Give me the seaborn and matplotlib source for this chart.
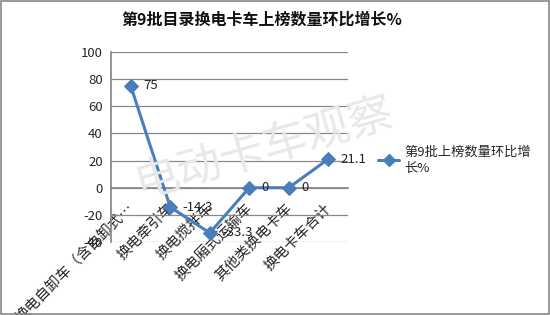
import matplotlib
matplotlib.use("Agg")
import matplotlib.pyplot as plt
import matplotlib.transforms as mtransforms
from matplotlib.patches import Rectangle
from matplotlib.lines import Line2D
import seaborn as sns
import pandas as pd

categories = ["换电自卸车（含自卸式…", "换电牵引车", "换电搅拌车", "换电厢式运输车", "其他类换电卡车", "换电卡车合计"]
values = [75, -14.3, -33.3, 0, 0, 21.1]
value_labels = ["75", "-14.3", "-33.3", "0", "0", "21.1"]
yticks = [-40, -20, 0, 20, 40, 60, 80, 100]
title = "第9批目录换电卡车上榜数量环比增长%"
series_name = "第9批上榜数量环比增\n长%"
watermark = "电动卡车观察"

sns.set_theme(style="white")
plt.rcParams['font.family'] = ['Noto Sans CJK SC', 'DejaVu Sans']

color = "#4a7ebb"
df = pd.DataFrame({"pos": list(range(len(categories))), "val": values})

fig = plt.figure(figsize=(5.5, 3.15), dpi=100)
fig.patch.set_facecolor("white")
ax = fig.add_axes([111/550, 1-242/315, (348-111)/550, (242-52)/315])

fig.text(264/550, 1-148/315, watermark, fontsize=32, color="#e8e8e8",
         rotation=16, ha="center", va="center", zorder=0)

sns.lineplot(data=df, x="pos", y="val", ax=ax, color=color, linewidth=2.2,
             marker="D", markersize=7, markeredgecolor=color, zorder=3)
ax.set_xlim(-0.5, len(categories) - 0.5)
ax.set_ylim(-40, 100)
ax.set_yticks(yticks)
ax.set_yticklabels([str(t) for t in yticks], fontsize=9.5)
ax.yaxis.grid(True, color="#888888", linewidth=0.9)
ax.set_axisbelow(True)
ax.patch.set_alpha(0)
ax.set_xlabel("")
ax.set_ylabel("")
for s in ["top", "right"]:
    ax.spines[s].set_visible(False)
ax.spines["left"].set_color("#888888")
ax.spines["bottom"].set_color("#888888")
ax.spines["bottom"].set_position(("data", 0))
ax.tick_params(axis="y", length=4, color="#888888", direction="out", pad=2)

# category boundary tick marks
ax.set_xticks([i - 0.5 for i in range(len(categories) + 1)], minor=True)
ax.tick_params(axis="x", which="minor", length=4, color="#888888", direction="out")
ax.set_xticks(list(range(len(categories))))
ax.set_xticklabels(categories, fontsize=10.5, rotation=45, ha="right",
                   rotation_mode="anchor")
ax.tick_params(axis="x", which="major", length=0, pad=6)
off = mtransforms.ScaledTranslation(1/100, -10/100, fig.dpi_scale_trans)
for lab in ax.get_xticklabels():
    lab.set_transform(lab.get_transform() + off)
    lab.set_va("center")

for i, (v, t) in enumerate(zip(values, value_labels)):
    ax.annotate(t, (i, v), xytext=(9, 0), textcoords="offset points",
                ha="left", va="center", fontsize=9.5, color="#222222", zorder=4)

fig.text(262/550, 1-20/315, title, fontsize=11.5, fontweight="bold",
         ha="center", va="center", color="#111111")

handle = Line2D([], [], color=color, linewidth=2.2, marker="D", markersize=6)
fig.legend([handle], [series_name], loc="upper left", bbox_to_anchor=(378/550, 1-146/315),
           frameon=False, fontsize=9.5, handlelength=1.6, handletextpad=0.4,
           borderaxespad=0, borderpad=0)

fig.add_artist(Rectangle((0.001, 0.002), 0.997, 0.995, transform=fig.transFigure,
                         fill=False, edgecolor="#888888", linewidth=1.2))

fig.savefig("out.png", dpi=100)
